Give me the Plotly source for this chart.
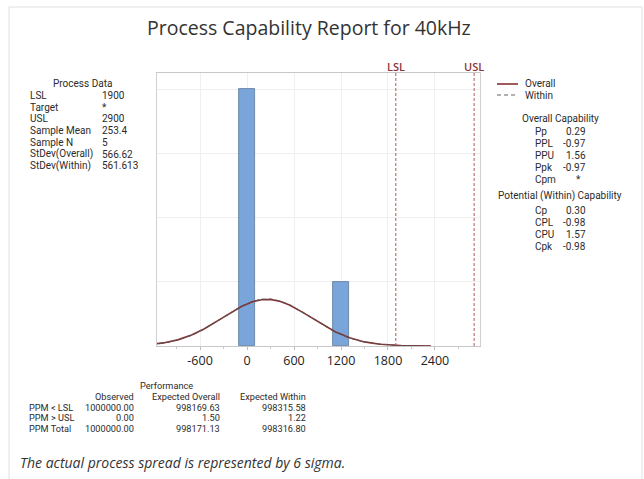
import numpy as np
import plotly.graph_objects as go

# ---- data ----
bin_centers = [0, 1200]
bin_counts = [4, 1]
bin_width = 206

lsl = 1900
usl = 2900
sample_mean = 253.4
sample_n = 5
sd_overall = 566.62
sd_within = 561.613

process_labels = ["LSL", "Target", "USL", "Sample Mean", "Sample N", "StDev(Overall)", "StDev(Within)"]
process_values = ["1900", "*", "2900", "253.4", "5", "566.62", "561.613"]

overall_labels = ["Pp", "PPL", "PPU", "Ppk", "Cpm"]
overall_values = ["0.29", "-0.97", "1.56", "-0.97", "*"]

within_labels = ["Cp", "CPL", "CPU", "Cpk"]
within_values = ["0.30", "-0.98", "1.57", "-0.98"]

perf_columns = ["Observed", "Expected Overall", "Expected Within"]
perf_rows = ["PPM < LSL", "PPM > USL", "PPM Total"]
perf_observed = ["1000000.00", "0.00", "1000000.00"]
perf_exp_overall = ["998169.63", "1.50", "998171.13"]
perf_exp_within = ["998315.58", "1.22", "998316.80"]

x_ticks = [-600, 0, 600, 1200, 1800, 2400]

# ---- page geometry ----
W, H = 644, 479
ML, MR, MT, MB = 157, 164, 73, 133
PW = W - ML - MR
PH = H - MT - MB


def px(x):
    return (x - ML) / PW


def py(y):
    return (H - MB - y) / PH


FONT = "Roboto"
HEAD_FONT = "Open Sans"
TXT = "#2b2b2b"
RED = "#8c3535"

fig = go.Figure()

# histogram bars
fig.add_trace(go.Bar(
    x=bin_centers, y=bin_counts, width=bin_width,
    marker=dict(color="#7aa5db", line=dict(color="#5b7799", width=0.8)),
    showlegend=False, hoverinfo="x+y",
))


def normal_curve(mu, sd):
    xs = np.linspace(mu - 3.7 * sd, mu + 3.7 * sd, 400)
    ys = sample_n * bin_width * np.exp(-0.5 * ((xs - mu) / sd) ** 2) / (sd * np.sqrt(2 * np.pi))
    return xs, ys


xo, yo = normal_curve(sample_mean, sd_overall)
fig.add_trace(go.Scatter(x=xo, y=yo, mode="lines", name="Overall",
                         line=dict(color="#8a3030", width=1.6), showlegend=False))
xw, yw = normal_curve(sample_mean, sd_within)
fig.add_trace(go.Scatter(x=xw, y=yw, mode="lines", name="Within",
                         line=dict(color="#555555", width=1.1, dash="4px,3px"), showlegend=False))

shapes = []
annotations = []

# spec limit lines and labels
for val, name in [(lsl, "LSL"), (usl, "USL")]:
    shapes.append(dict(type="line", xref="x", yref="paper", x0=val, x1=val, y0=0, y1=py(71),
                       line=dict(color="#b05a5a", width=1, dash="3px,2px")))
    annotations.append(dict(x=val, y=py(66), xref="x", yref="paper", text=name, showarrow=False,
                            font=dict(family=HEAD_FONT, size=11, color=RED, weight=600),
                            xanchor="center", yanchor="middle"))

# outer frame
shapes.append(dict(type="rect", xref="paper", yref="paper", x0=px(9), x1=px(642), y0=py(495), y1=py(7),
                   line=dict(color="#e0e0e0", width=1), fillcolor="rgba(0,0,0,0)", layer="below"))


def text(x, y, s, size=10, anchor="left", color=TXT, italic=False, family=FONT):
    annotations.append(dict(x=px(x), y=py(y), xref="paper", yref="paper", text=s, showarrow=False,
                            xanchor=anchor, yanchor="middle",
                            font=dict(family=family, size=size, color=color,
                                      style="italic" if italic else "normal")))


# title
text(309, 28, "Process Capability Report for 40kHz", size=19.5, anchor="center", color="#333333",
     family=HEAD_FONT)

# process data block
text(82, 84, "Process Data", anchor="center")
for i, (lab, val) in enumerate(zip(process_labels, process_values)):
    y = 95.5 + i * 11.7
    text(28, y, lab)
    text(100, y, val)

# legend
shapes.append(dict(type="line", xref="paper", yref="paper", x0=px(497), x1=px(518), y0=py(84), y1=py(84),
                   line=dict(color="#8a3030", width=1.6)))
shapes.append(dict(type="line", xref="paper", yref="paper", x0=px(497), x1=px(518), y0=py(95), y1=py(95),
                   line=dict(color="#666666", width=1.1, dash="4px,3px")))
text(523, 84, "Overall")
text(523, 95.5, "Within")

# overall capability block
text(560, 118, "Overall Capability", anchor="center")
for i, (lab, val) in enumerate(zip(overall_labels, overall_values)):
    y = 131 + i * 12
    text(533, y, lab)
    if val == "*":
        text(578, y, val, anchor="center")
    else:
        text(588, y, val, anchor="right")

# potential (within) capability block
text(560, 196, "Potential (Within) Capability", anchor="center")
for i, (lab, val) in enumerate(zip(within_labels, within_values)):
    y = 210 + i * 12
    text(533, y, lab)
    text(588, y, val, anchor="right")

# performance table
TS = 9.2
text(166, 385, "Performance", anchor="center", size=TS)
col_right = [136, 222, 308]
for c, name in zip(col_right, perf_columns):
    text(c, 396, name, anchor="right", size=TS)
for i, row in enumerate(perf_rows):
    y = 407 + i * 10.7
    text(27, y, row, size=TS)
    for c, col in zip(col_right, [perf_observed, perf_exp_overall, perf_exp_within]):
        text(c, y, col[i], anchor="right", size=TS)

# footnote
text(18, 462, "The actual process spread is represented by 6 sigma.", size=14, color="#333333",
     italic=True, family=HEAD_FONT)

fig.update_layout(
    width=W, height=H,
    margin=dict(l=ML, r=MR, t=MT, b=MB, pad=0),
    paper_bgcolor="white", plot_bgcolor="white",
    showlegend=False, bargap=0,
    shapes=shapes, annotations=annotations,
    xaxis=dict(range=[-1150, 2975], tickvals=x_ticks, ticktext=[str(t) for t in x_ticks],
               showgrid=True, gridcolor="#efefef", gridwidth=1, zeroline=False,
               showline=True, linecolor="#c8c8c8", linewidth=1, mirror=True,
               ticks="outside", ticklen=3, tickcolor="#bbbbbb",
               minor=dict(dtick=300, tick0=0, ticks="outside", ticklen=2, tickcolor="#cccccc", showgrid=False),
               tickfont=dict(family=HEAD_FONT, size=12.5, color="#222222")),
    yaxis=dict(range=[0, 4.25], dtick=1, showticklabels=False, showgrid=True, gridcolor="#efefef",
               zeroline=False, showline=True, linecolor="#d0d0d0", mirror=True, ticks=""),
)

fig.write_html("out.html")
